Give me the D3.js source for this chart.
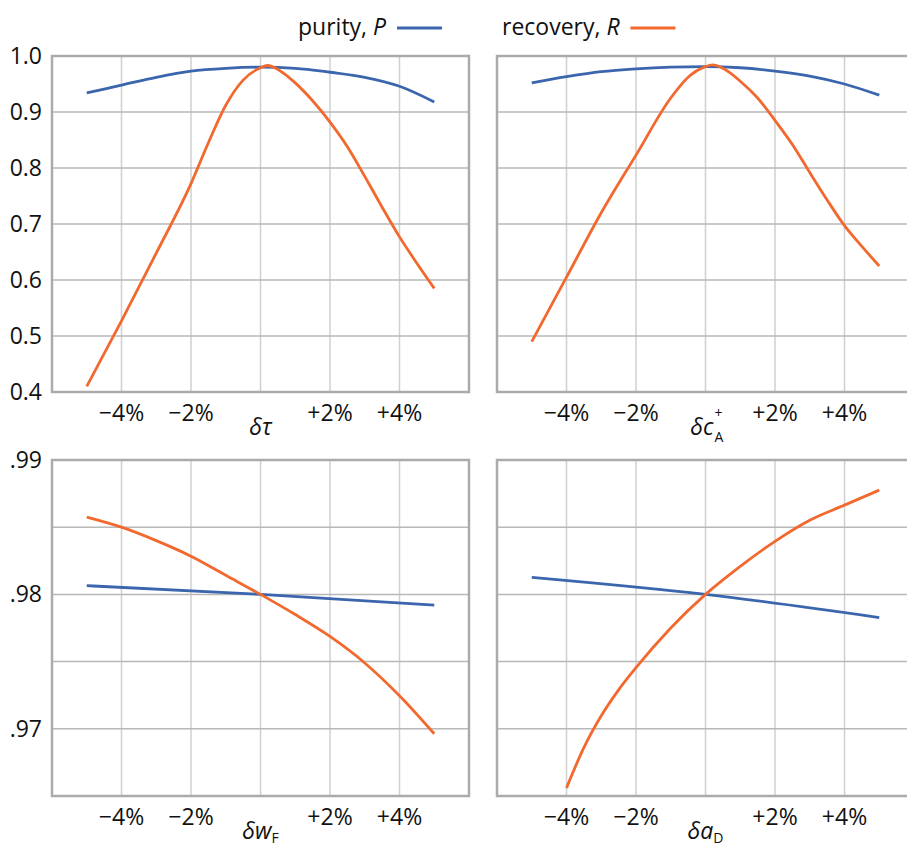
<!DOCTYPE html>
<html><head><meta charset="utf-8">
<script src="https://cdn.jsdelivr.net/npm/d3@7"></script>
<style>
body{margin:0;background:#fff;overflow:hidden}
svg text{font-family:"Open Sans","Noto Sans",sans-serif;fill:#111}
</style></head>
<body><svg id="c" width="907" height="848"></svg>
<script>
// ---- data ----
const xTickVals = [-4, -2, 2, 4];
const xTickLabels = ["\u22124%", "\u22122%", "+2%", "+4%"];
const xGridVals = [-4, -2, 0, 2, 4];
const topYTicks = [0.4, 0.5, 0.6, 0.7, 0.8, 0.9, 1.0];
const topYLabels = ["0.4", "0.5", "0.6", "0.7", "0.8", "0.9", "1.0"];
const botYGrid = [0.97, 0.975, 0.98, 0.985];
const botYTicks = [0.97, 0.98, 0.99];
const botYLabels = [".97", ".98", ".99"];

// panel 1: delta tau
const tauPx = [-5, -4, -3, -2, -1, 0, 1, 2, 3, 4, 5];
const tauP = [0.934, 0.948, 0.962, 0.973, 0.978, 0.980, 0.978, 0.971, 0.962, 0.946, 0.918];
const tauRx = [-5, -4, -3, -2, -1.5, -1, -0.5, 0, 0.2, 0.5, 1, 1.5, 2, 2.5, 3, 3.5, 4, 4.5, 5];
const tauR = [0.41, 0.527, 0.648, 0.772, 0.845, 0.912, 0.957, 0.979, 0.983, 0.976, 0.952, 0.92, 0.882, 0.838, 0.785, 0.73, 0.677, 0.63, 0.585];
// panel 2: delta c_A+
const cPx = [-5, -4, -3, -2, -1, 0, 1, 2, 3, 4, 5];
const cP = [0.952, 0.963, 0.972, 0.977, 0.980, 0.981, 0.979, 0.973, 0.964, 0.950, 0.930];
const cRx = [-5, -4, -3, -2, -1, -0.5, 0, 0.2, 0.5, 1, 1.5, 2, 2.5, 3, 3.5, 4, 4.5, 5];
const cR = [0.49, 0.605, 0.72, 0.823, 0.925, 0.962, 0.981, 0.984, 0.978, 0.955, 0.925, 0.885, 0.842, 0.792, 0.743, 0.697, 0.66, 0.625];
// panel 3: delta w_F
const wPx = [-5, 0, 5];
const wP = [0.98065, 0.98000, 0.97920];
const wRx = [-5, -4, -3, -2, -1, 0, 1, 2, 3, 4, 5];
const wR = [0.98575, 0.9850, 0.9840, 0.98284, 0.98142, 0.9800, 0.9785, 0.97687, 0.9749, 0.97246, 0.96963];
// panel 4: delta a_D
const aPx = [-5, 0, 5];
const aP = [0.98127, 0.98000, 0.97828];
const aRx = [-4, -3.5, -3, -2.5, -2, -1, 0, 1, 2, 3, 4, 5];
const aR = [0.9656, 0.9686, 0.97097, 0.9729, 0.97455, 0.9775, 0.9800, 0.98209, 0.98395, 0.98552, 0.98664, 0.98776];

const legendNames = ["purity, ", "recovery, "];
const legendSyms = ["P", "R"];
const colors = ["#3b66ad", "#f2692f"];

// ---- drawing ----
const svg = d3.select("#c");
const panels = [
  {x0: 52, y0: 56, yDomain: [0.4, 1.0], yGrid: topYTicks, yTicks: topYTicks, yLabels: topYLabels, showY: true,
   P: [tauPx, tauP], R: [tauRx, tauR], title: "tau"},
  {x0: 497, y0: 56, yDomain: [0.4, 1.0], yGrid: topYTicks, yTicks: topYTicks, yLabels: topYLabels, showY: false,
   P: [cPx, cP], R: [cRx, cR], title: "c"},
  {x0: 52, y0: 460, yDomain: [0.965, 0.99], yGrid: botYGrid, yTicks: botYTicks, yLabels: botYLabels, showY: true,
   P: [wPx, wP], R: [wRx, wR], title: "w"},
  {x0: 497, y0: 460, yDomain: [0.965, 0.99], yGrid: botYGrid, yTicks: botYTicks, yLabels: botYLabels, showY: false,
   P: [aPx, aP], R: [aRx, aR], title: "a"}
];
const W = 417, H = 336;

panels.forEach(p => {
  const g = svg.append("g").attr("transform", `translate(${p.x0},${p.y0})`);
  const x = d3.scaleLinear().domain([-6, 6]).range([0, W]);
  const y = d3.scaleLinear().domain(p.yDomain).range([H, 0]);
  g.selectAll(".vg").data(xGridVals).join("line")
    .attr("x1", d => x(d)).attr("x2", d => x(d)).attr("y1", 0).attr("y2", H)
    .attr("stroke", "#d0d0d0").attr("stroke-width", 1.5);
  g.selectAll(".hg").data(p.yGrid).join("line")
    .attr("x1", 0).attr("x2", W).attr("y1", d => y(d)).attr("y2", d => y(d))
    .attr("stroke", "#b8b8b8").attr("stroke-width", 1.5);
  g.append("rect").attr("x", 0).attr("y", 0).attr("width", W).attr("height", H)
    .attr("fill", "none").attr("stroke", "#ababab").attr("stroke-width", 2.5);
  g.selectAll(".xt").data(xTickVals).join("text")
    .attr("x", d => x(d)).attr("y", H + 29).attr("text-anchor", "middle")
    .attr("font-size", 23).text((d, i) => xTickLabels[i]);
  if (p.showY) {
    g.selectAll(".yt").data(p.yTicks).join("text")
      .attr("x", -10).attr("y", d => y(d) + 8).attr("text-anchor", "end")
      .attr("font-size", 23).text((d, i) => p.yLabels[i]);
  }
  const line = d3.line().x(d => x(d[0])).y(d => y(d[1])).curve(d3.curveMonotoneX);
  [p.P, p.R].forEach((s, k) => {
    const pts = s[0].map((v, i) => [v, s[1][i]]);
    g.append("path").attr("d", line(pts)).attr("fill", "none")
      .attr("stroke", colors[k]).attr("stroke-width", 2.8);
  });
  const cx = x(0);
  if (p.title === "c") {
    g.append("text").attr("x", cx + 8).attr("y", H + 43).attr("text-anchor", "end")
      .attr("font-size", 23).attr("font-style", "italic").text("\u03B4c");
    g.append("text").attr("x", cx + 9).attr("y", H + 26).attr("font-size", 14).text("+");
    g.append("text").attr("x", cx + 9).attr("y", H + 50).attr("font-size", 14).text("A");
  } else {
    const t = g.append("text").attr("x", cx).attr("y", H + 43).attr("text-anchor", "middle")
      .attr("font-size", 23).attr("font-style", "italic");
    if (p.title === "tau") {
      t.text("\u03B4\u03C4");
    } else {
      t.append("tspan").text(p.title === "w" ? "\u03B4w" : "\u03B4a");
      t.append("tspan").attr("font-size", 14).attr("font-style", "normal").attr("dy", 4)
        .text(p.title === "w" ? "F" : "D");
    }
  }
});

// legend
const legX = [298, 502];
legendNames.forEach((n, i) => {
  const t = svg.append("text").attr("x", legX[i]).attr("y", 35).attr("font-size", 23);
  t.append("tspan").text(n);
  t.append("tspan").attr("font-style", "italic").text(legendSyms[i]);
  const bb = t.node().getBBox();
  svg.append("line").attr("x1", bb.x + bb.width + 10).attr("x2", bb.x + bb.width + 55)
    .attr("y1", 28).attr("y2", 28).attr("stroke", colors[i]).attr("stroke-width", 2.8);
});
</script></body></html>
